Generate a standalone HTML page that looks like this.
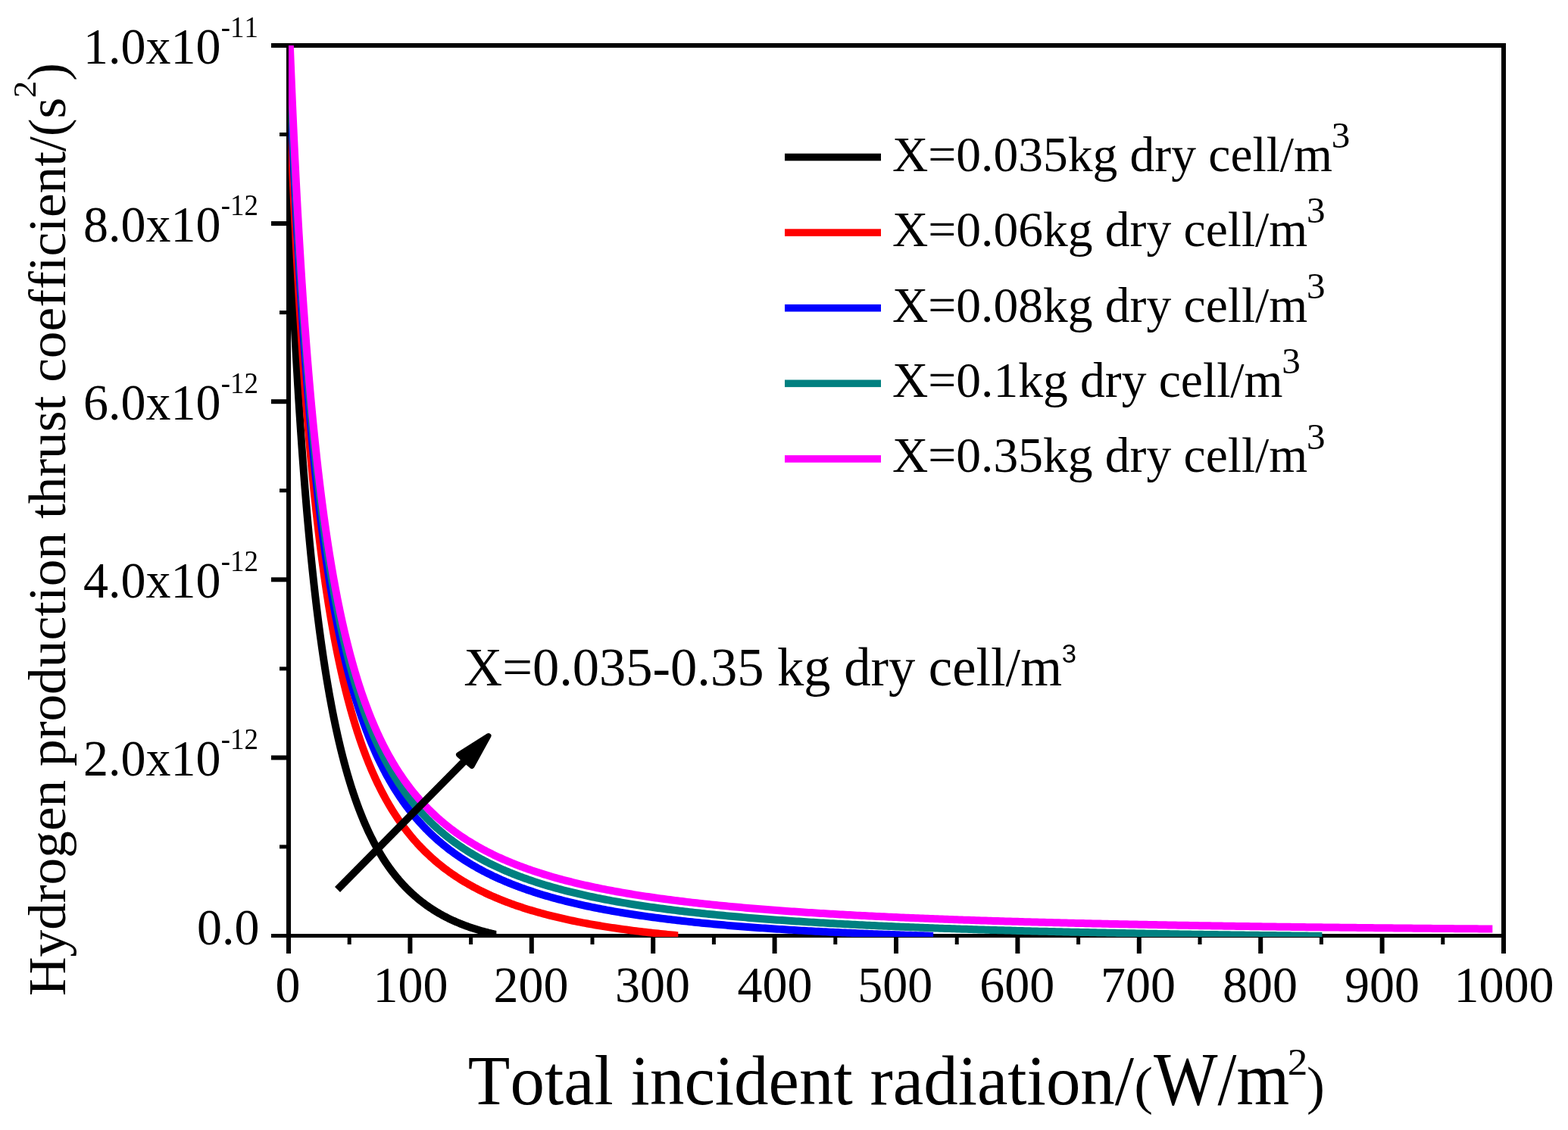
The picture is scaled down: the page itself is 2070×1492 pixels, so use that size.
<!DOCTYPE html><html><head><meta charset="utf-8"><title>Hydrogen production thrust coefficient vs total incident radiation</title><style>html,body{margin:0;padding:0;background:#fff;overflow:hidden;}svg{display:block;}text{font-family:'Liberation Serif','Times New Roman',serif;fill:#000;font-kerning:none;font-variant-ligatures:none;font-feature-settings:"liga" 0,"clig" 0;}</style></head><body>
<svg width="2070" height="1492" viewBox="0 0 2070 1492">
<rect width="2070" height="1492" fill="#fff"/>
<defs><clipPath id="plot"><rect x="381" y="60" width="1604" height="1177"/></clipPath>
<clipPath id="c_black"><rect x="381" y="60" width="274.36" height="1177"/></clipPath>
<clipPath id="c_red"><rect x="381" y="60" width="514.32" height="1177"/></clipPath>
<clipPath id="c_blue"><rect x="381" y="60" width="851.16" height="1177"/></clipPath>
<clipPath id="c_teal"><rect x="381" y="60" width="1364.44" height="1177"/></clipPath>
<clipPath id="c_mag"><rect x="381" y="60" width="1589.32" height="1177"/></clipPath>
</defs>
<g fill="#000">
<rect x="378" y="57" width="1610" height="6"/>
<rect x="378" y="1233" width="1610" height="5"/>
<rect x="378" y="57" width="6" height="1181"/>
<rect x="1982" y="57" width="6" height="1181"/>
<rect x="378.0" y="1238" width="6" height="21"/>
<rect x="538.4" y="1238" width="6" height="21"/>
<rect x="698.8" y="1238" width="6" height="21"/>
<rect x="859.2" y="1238" width="6" height="21"/>
<rect x="1019.6" y="1238" width="6" height="21"/>
<rect x="1180.0" y="1238" width="6" height="21"/>
<rect x="1340.4" y="1238" width="6" height="21"/>
<rect x="1500.8" y="1238" width="6" height="21"/>
<rect x="1661.2" y="1238" width="6" height="21"/>
<rect x="1821.6" y="1238" width="6" height="21"/>
<rect x="1982.0" y="1238" width="6" height="21"/>
<rect x="458.7" y="1238" width="5" height="9"/>
<rect x="619.1" y="1238" width="5" height="9"/>
<rect x="779.5" y="1238" width="5" height="9"/>
<rect x="939.9" y="1238" width="5" height="9"/>
<rect x="1100.3" y="1238" width="5" height="9"/>
<rect x="1260.7" y="1238" width="5" height="9"/>
<rect x="1421.1" y="1238" width="5" height="9"/>
<rect x="1581.5" y="1238" width="5" height="9"/>
<rect x="1741.9" y="1238" width="5" height="9"/>
<rect x="1902.3" y="1238" width="5" height="9"/>
<rect x="358" y="1233" width="20" height="5"/>
<rect x="358" y="997.4" width="20" height="6"/>
<rect x="358" y="762.3" width="20" height="6"/>
<rect x="358" y="527.2" width="20" height="6"/>
<rect x="358" y="292.1" width="20" height="6"/>
<rect x="358" y="57.0" width="20" height="6"/>
<rect x="369" y="1115.5" width="9" height="5"/>
<rect x="369" y="880.4" width="9" height="5"/>
<rect x="369" y="645.2" width="9" height="5"/>
<rect x="369" y="410.1" width="9" height="5"/>
<rect x="369" y="175.0" width="9" height="5"/>
</g>
<g clip-path="url(#plot)" fill="none" stroke-width="10" stroke-linejoin="round" stroke-linecap="butt">
<path clip-path="url(#c_black)" d="M381.00 259.00 L381.40 269.04 L381.80 278.93 L382.20 288.68 L382.60 298.28 L383.00 307.75 L383.41 317.09 L383.81 326.29 L384.21 335.36 L384.61 344.30 L385.01 353.12 L385.41 361.81 L385.81 370.38 L386.21 378.84 L386.61 387.18 L387.01 395.40 L387.42 403.51 L387.82 411.51 L388.22 419.41 L388.62 427.20 L389.02 434.88 L389.42 442.46 L389.82 449.95 L390.22 457.33 L390.62 464.62 L391.02 471.81 L391.43 478.91 L391.83 485.91 L392.23 492.83 L392.63 499.66 L393.03 506.40 L393.43 513.05 L393.83 519.63 L394.23 526.11 L394.63 532.52 L395.04 538.85 L395.44 545.10 L395.84 551.27 L396.24 557.37 L396.64 563.39 L397.04 569.34 L397.44 575.21 L397.84 581.02 L398.24 586.75 L398.64 592.42 L399.05 598.01 L399.45 603.55 L399.85 609.01 L400.25 614.41 L400.65 619.75 L401.05 625.03 L401.45 630.24 L401.85 635.40 L402.25 640.49 L402.65 645.53 L403.06 650.51 L403.46 655.43 L403.86 660.29 L404.26 665.10 L404.66 669.86 L405.06 674.56 L405.46 679.21 L405.86 683.81 L406.26 688.36 L406.66 692.85 L407.06 697.30 L407.47 701.70 L407.87 706.05 L408.27 710.36 L408.67 714.61 L409.07 718.82 L409.47 722.99 L409.87 727.11 L410.27 731.19 L410.67 735.22 L411.07 739.21 L411.48 743.16 L411.88 747.06 L412.28 750.93 L412.68 754.75 L413.08 758.54 L413.48 762.29 L413.88 765.99 L414.28 769.66 L414.68 773.29 L415.08 776.89 L415.49 780.45 L415.89 783.97 L416.29 787.45 L416.69 790.91 L417.09 794.32 L417.49 797.70 L417.89 801.05 L418.29 804.37 L418.69 807.65 L419.10 810.90 L419.50 814.12 L419.90 817.30 L420.30 820.46 L420.70 823.58 L421.10 826.67 L421.50 829.74 L421.90 832.77 L422.30 835.78 L422.70 838.75 L423.11 841.70 L423.51 844.62 L423.91 847.51 L424.31 850.38 L424.71 853.21 L425.11 856.02 L425.51 858.81 L425.91 861.57 L426.31 864.30 L426.71 867.01 L427.12 869.69 L427.52 872.34 L427.92 874.98 L428.32 877.59 L428.72 880.17 L429.12 882.73 L429.52 885.27 L429.92 887.79 L430.32 890.28 L430.72 892.75 L431.12 895.20 L431.53 897.62 L431.93 900.03 L432.33 902.41 L432.73 904.77 L433.13 907.11 L433.53 909.43 L433.93 911.73 L434.33 914.01 L434.73 916.27 L435.13 918.51 L435.54 920.73 L435.94 922.93 L436.34 925.11 L436.74 927.27 L437.14 929.42 L437.54 931.55 L437.94 933.65 L438.34 935.74 L438.74 937.82 L439.14 939.87 L439.55 941.91 L439.95 943.93 L440.35 945.93 L440.75 947.92 L441.15 949.89 L441.55 951.84 L441.95 953.78 L442.35 955.70 L442.75 957.60 L443.15 959.49 L443.56 961.37 L443.96 963.22 L444.36 965.07 L444.76 966.90 L445.16 968.71 L445.56 970.51 L445.96 972.29 L446.36 974.06 L446.76 975.82 L447.17 977.56 L447.57 979.29 L447.97 981.00 L448.37 982.70 L448.77 984.38 L449.17 986.06 L449.57 987.72 L449.97 989.36 L450.37 991.00 L450.77 992.62 L451.18 994.23 L451.58 995.82 L451.98 997.40 L452.38 998.98 L452.78 1000.53 L453.18 1002.08 L453.58 1003.62 L453.98 1005.14 L454.38 1006.65 L454.78 1008.15 L455.19 1009.64 L455.59 1011.11 L455.99 1012.58 L456.39 1014.03 L456.79 1015.48 L457.19 1016.91 L457.59 1018.33 L457.99 1019.74 L458.39 1021.14 L458.79 1022.53 L459.19 1023.91 L459.60 1025.28 L460.00 1026.64 L460.40 1027.99 L460.80 1029.33 L461.20 1030.65 L461.60 1031.97 L462.00 1033.28 L462.40 1034.58 L462.80 1035.87 L463.20 1037.15 L463.61 1038.43 L464.01 1039.69 L464.41 1040.94 L464.81 1042.19 L465.21 1043.42 L465.61 1044.65 L466.01 1045.86 L466.41 1047.07 L466.81 1048.27 L467.22 1049.46 L467.62 1050.65 L468.02 1051.82 L468.42 1052.99 L468.82 1054.15 L469.22 1055.29 L469.62 1056.44 L470.02 1057.57 L470.42 1058.70 L470.82 1059.81 L471.23 1060.92 L471.63 1062.03 L472.03 1063.12 L472.43 1064.21 L472.83 1065.29 L473.23 1066.36 L473.63 1067.42 L474.03 1068.48 L474.43 1069.53 L474.83 1070.57 L475.24 1071.61 L475.64 1072.64 L476.04 1073.66 L476.44 1074.67 L476.84 1075.68 L477.24 1076.68 L478.84 1080.61 L480.45 1084.44 L482.05 1088.17 L483.66 1091.80 L485.26 1095.34 L486.86 1098.79 L488.47 1102.14 L490.07 1105.41 L491.68 1108.60 L493.28 1111.71 L494.88 1114.74 L496.49 1117.69 L498.09 1120.58 L499.70 1123.39 L501.30 1126.13 L502.90 1128.81 L504.51 1131.42 L506.11 1133.97 L507.72 1136.46 L509.32 1138.89 L510.92 1141.26 L512.53 1143.58 L514.13 1145.84 L515.74 1148.05 L517.34 1150.21 L518.94 1152.32 L520.55 1154.38 L522.15 1156.40 L523.76 1158.37 L525.36 1160.30 L526.96 1162.18 L528.57 1164.02 L530.17 1165.82 L531.78 1167.58 L533.38 1169.30 L534.98 1170.99 L536.59 1172.63 L538.19 1174.25 L539.80 1175.82 L541.40 1177.36 L543.00 1178.87 L544.61 1180.35 L546.21 1181.80 L547.82 1183.21 L549.42 1184.60 L551.02 1185.95 L552.63 1187.28 L554.23 1188.58 L555.84 1189.85 L557.44 1191.10 L559.04 1192.32 L560.65 1193.51 L562.25 1194.69 L563.86 1195.83 L565.46 1196.95 L567.06 1198.05 L568.67 1199.13 L570.27 1200.18 L571.88 1201.22 L573.48 1202.23 L575.08 1203.22 L576.69 1204.19 L578.29 1205.15 L579.90 1206.08 L581.50 1206.99 L583.10 1207.89 L584.71 1208.77 L586.31 1209.63 L587.92 1210.47 L589.52 1211.29 L591.12 1212.10 L592.73 1212.90 L594.33 1213.67 L595.94 1214.43 L597.54 1215.18 L599.14 1215.91 L600.75 1216.63 L602.35 1217.33 L603.96 1218.02 L605.56 1218.69 L607.16 1219.36 L608.77 1220.00 L610.37 1220.64 L611.98 1221.26 L613.58 1221.87 L615.18 1222.47 L616.79 1223.05 L618.39 1223.63 L620.00 1224.19 L621.60 1224.74 L623.20 1225.28 L624.81 1225.81 L626.41 1226.33 L628.02 1226.84 L629.62 1227.33 L631.22 1227.82 L632.83 1228.30 L634.43 1228.77 L636.04 1229.22 L637.64 1229.67 L639.24 1230.11 L640.85 1230.54 L642.45 1230.96 L644.06 1231.38 L645.66 1231.78 L647.26 1232.18 L648.87 1232.56 L650.47 1232.94 L652.08 1233.32 L653.68 1233.68 L655.28 1234.03 L656.89 1234.38 L658.49 1234.72 L660.10 1235.06 L661.38 1235.32" stroke="#000000"/>
<path clip-path="url(#c_red)" d="M381.00 98.80 L381.40 109.60 L381.80 120.23 L382.20 130.70 L382.60 141.02 L383.00 151.19 L383.41 161.21 L383.81 171.08 L384.21 180.82 L384.61 190.41 L385.01 199.86 L385.41 209.19 L385.81 218.38 L386.21 227.44 L386.61 236.37 L387.01 245.18 L387.42 253.87 L387.82 262.44 L388.22 270.89 L388.62 279.23 L389.02 287.46 L389.42 295.57 L389.82 303.58 L390.22 311.48 L390.62 319.27 L391.02 326.97 L391.43 334.56 L391.83 342.05 L392.23 349.45 L392.63 356.75 L393.03 363.96 L393.43 371.07 L393.83 378.10 L394.23 385.04 L394.63 391.89 L395.04 398.65 L395.44 405.33 L395.84 411.93 L396.24 418.44 L396.64 424.88 L397.04 431.24 L397.44 437.52 L397.84 443.72 L398.24 449.85 L398.64 455.91 L399.05 461.89 L399.45 467.81 L399.85 473.65 L400.25 479.42 L400.65 485.13 L401.05 490.77 L401.45 496.35 L401.85 501.86 L402.25 507.31 L402.65 512.69 L403.06 518.02 L403.46 523.28 L403.86 528.49 L404.26 533.63 L404.66 538.72 L405.06 543.76 L405.46 548.73 L405.86 553.66 L406.26 558.52 L406.66 563.34 L407.06 568.10 L407.47 572.81 L407.87 577.47 L408.27 582.08 L408.67 586.64 L409.07 591.15 L409.47 595.62 L409.87 600.03 L410.27 604.40 L410.67 608.73 L411.07 613.01 L411.48 617.24 L411.88 621.43 L412.28 625.58 L412.68 629.68 L413.08 633.75 L413.48 637.77 L413.88 641.75 L414.28 645.69 L414.68 649.59 L415.08 653.45 L415.49 657.28 L415.89 661.06 L416.29 664.81 L416.69 668.52 L417.09 672.20 L417.49 675.83 L417.89 679.44 L418.29 683.00 L418.69 686.54 L419.10 690.04 L419.50 693.50 L419.90 696.93 L420.30 700.33 L420.70 703.70 L421.10 707.04 L421.50 710.34 L421.90 713.61 L422.30 716.86 L422.70 720.07 L423.11 723.25 L423.51 726.40 L423.91 729.53 L424.31 732.62 L424.71 735.69 L425.11 738.73 L425.51 741.74 L425.91 744.72 L426.31 747.68 L426.71 750.61 L427.12 753.52 L427.52 756.39 L427.92 759.25 L428.32 762.07 L428.72 764.88 L429.12 767.65 L429.52 770.41 L429.92 773.14 L430.32 775.84 L430.72 778.52 L431.12 781.18 L431.53 783.82 L431.93 786.43 L432.33 789.02 L432.73 791.59 L433.13 794.13 L433.53 796.66 L433.93 799.16 L434.33 801.65 L434.73 804.11 L435.13 806.55 L435.54 808.97 L435.94 811.37 L436.34 813.75 L436.74 816.11 L437.14 818.45 L437.54 820.77 L437.94 823.08 L438.34 825.36 L438.74 827.63 L439.14 829.88 L439.55 832.10 L439.95 834.32 L440.35 836.51 L440.75 838.69 L441.15 840.84 L441.55 842.99 L441.95 845.11 L442.35 847.22 L442.75 849.31 L443.15 851.38 L443.56 853.44 L443.96 855.48 L444.36 857.51 L444.76 859.52 L445.16 861.52 L445.56 863.50 L445.96 865.46 L446.36 867.41 L446.76 869.34 L447.17 871.26 L447.57 873.17 L447.97 875.06 L448.37 876.94 L448.77 878.80 L449.17 880.65 L449.57 882.48 L449.97 884.30 L450.37 886.11 L450.77 887.90 L451.18 889.68 L451.58 891.45 L451.98 893.20 L452.38 894.95 L452.78 896.67 L453.18 898.39 L453.58 900.09 L453.98 901.79 L454.38 903.46 L454.78 905.13 L455.19 906.79 L455.59 908.43 L455.99 910.06 L456.39 911.68 L456.79 913.29 L457.19 914.88 L457.59 916.47 L457.99 918.04 L458.39 919.61 L458.79 921.16 L459.19 922.70 L459.60 924.23 L460.00 925.75 L460.40 927.26 L460.80 928.76 L461.20 930.25 L461.60 931.72 L462.00 933.19 L462.40 934.65 L462.80 936.10 L463.20 937.54 L463.61 938.97 L464.01 940.38 L464.41 941.79 L464.81 943.19 L465.21 944.58 L465.61 945.96 L466.01 947.34 L466.41 948.70 L466.81 950.05 L467.22 951.40 L467.62 952.73 L468.02 954.06 L468.42 955.38 L468.82 956.68 L469.22 957.99 L469.62 959.28 L470.02 960.56 L470.42 961.84 L470.82 963.10 L471.23 964.36 L471.63 965.61 L472.03 966.86 L472.43 968.09 L472.83 969.32 L473.23 970.54 L473.63 971.75 L474.03 972.95 L474.43 974.15 L474.83 975.33 L475.24 976.52 L475.64 977.69 L476.04 978.85 L476.44 980.01 L476.84 981.16 L477.24 982.31 L478.84 986.82 L480.45 991.21 L482.05 995.50 L483.66 999.69 L485.26 1003.77 L486.86 1007.77 L488.47 1011.66 L490.07 1015.47 L491.68 1019.19 L493.28 1022.83 L494.88 1026.38 L496.49 1029.85 L498.09 1033.25 L499.70 1036.57 L501.30 1039.82 L502.90 1043.00 L504.51 1046.12 L506.11 1049.16 L507.72 1052.14 L509.32 1055.06 L510.92 1057.92 L512.53 1060.72 L514.13 1063.46 L515.74 1066.15 L517.34 1068.78 L518.94 1071.36 L520.55 1073.89 L522.15 1076.37 L523.76 1078.80 L525.36 1081.18 L526.96 1083.52 L528.57 1085.81 L530.17 1088.06 L531.78 1090.27 L533.38 1092.44 L534.98 1094.56 L536.59 1096.65 L538.19 1098.70 L539.80 1100.71 L541.40 1102.68 L543.00 1104.62 L544.61 1106.52 L546.21 1108.39 L547.82 1110.23 L549.42 1112.03 L551.02 1113.81 L552.63 1115.55 L554.23 1117.26 L555.84 1118.95 L557.44 1120.60 L559.04 1122.23 L560.65 1123.83 L562.25 1125.40 L563.86 1126.95 L565.46 1128.47 L567.06 1129.97 L568.67 1131.44 L570.27 1132.89 L571.88 1134.32 L573.48 1135.72 L575.08 1137.10 L576.69 1138.46 L578.29 1139.80 L579.90 1141.11 L581.50 1142.41 L583.10 1143.68 L584.71 1144.94 L586.31 1146.18 L587.92 1147.40 L589.52 1148.60 L591.12 1149.78 L592.73 1150.94 L594.33 1152.09 L595.94 1153.22 L597.54 1154.33 L599.14 1155.43 L600.75 1156.51 L602.35 1157.57 L603.96 1158.62 L605.56 1159.66 L607.16 1160.68 L608.77 1161.68 L610.37 1162.67 L611.98 1163.65 L613.58 1164.61 L615.18 1165.56 L616.79 1166.50 L618.39 1167.42 L620.00 1168.33 L621.60 1169.23 L623.20 1170.12 L624.81 1170.99 L626.41 1171.85 L628.02 1172.70 L629.62 1173.54 L631.22 1174.37 L632.83 1175.19 L634.43 1175.99 L636.04 1176.79 L637.64 1177.57 L639.24 1178.35 L640.85 1179.11 L642.45 1179.87 L644.06 1180.61 L645.66 1181.35 L647.26 1182.08 L648.87 1182.79 L650.47 1183.50 L652.08 1184.20 L653.68 1184.89 L655.28 1185.57 L656.89 1186.24 L658.49 1186.91 L660.10 1187.57 L661.70 1188.21 L663.30 1188.85 L664.91 1189.49 L666.51 1190.11 L668.12 1190.73 L669.72 1191.34 L671.32 1191.94 L672.93 1192.54 L674.53 1193.12 L676.14 1193.70 L677.74 1194.28 L679.34 1194.85 L680.95 1195.41 L682.55 1195.96 L684.16 1196.51 L685.76 1197.05 L687.36 1197.58 L688.97 1198.11 L690.57 1198.64 L692.18 1199.15 L693.78 1199.66 L695.38 1200.17 L696.99 1200.67 L698.59 1201.16 L700.20 1201.65 L701.80 1202.13 L705.01 1203.08 L708.22 1204.00 L711.42 1204.91 L714.63 1205.80 L717.84 1206.67 L721.05 1207.51 L724.26 1208.34 L727.46 1209.16 L730.67 1209.95 L733.88 1210.73 L737.09 1211.49 L740.30 1212.24 L743.50 1212.97 L746.71 1213.68 L749.92 1214.38 L753.13 1215.07 L756.34 1215.74 L759.54 1216.40 L762.75 1217.04 L765.96 1217.67 L769.17 1218.29 L772.38 1218.90 L775.58 1219.50 L778.79 1220.08 L782.00 1220.65 L785.21 1221.21 L788.42 1221.76 L791.62 1222.30 L794.83 1222.83 L798.04 1223.34 L801.25 1223.85 L804.46 1224.35 L807.66 1224.84 L810.87 1225.32 L814.08 1225.79 L817.29 1226.25 L820.50 1226.70 L823.70 1227.15 L826.91 1227.58 L830.12 1228.01 L833.33 1228.43 L836.54 1228.85 L839.74 1229.25 L842.95 1229.65 L846.16 1230.04 L849.37 1230.42 L852.58 1230.80 L855.78 1231.16 L858.99 1231.53 L862.20 1231.88 L865.41 1232.23 L868.62 1232.57 L871.82 1232.91 L875.03 1233.24 L878.24 1233.57 L881.45 1233.89 L884.66 1234.20 L887.86 1234.51 L891.07 1234.81 L894.28 1235.11 L897.49 1235.40 L900.70 1235.68 L901.34 1235.74" stroke="#FF0000"/>
<path clip-path="url(#c_blue)" d="M381.00 52.93 L381.40 63.89 L381.80 74.67 L382.20 85.29 L382.60 95.76 L383.00 106.07 L383.41 116.22 L383.81 126.23 L384.21 136.09 L384.61 145.81 L385.01 155.38 L385.41 164.82 L385.81 174.12 L386.21 183.30 L386.61 192.34 L387.01 201.26 L387.42 210.05 L387.82 218.72 L388.22 227.27 L388.62 235.70 L389.02 244.02 L389.42 252.22 L389.82 260.32 L390.22 268.30 L390.62 276.18 L391.02 283.96 L391.43 291.63 L391.83 299.20 L392.23 306.67 L392.63 314.05 L393.03 321.33 L393.43 328.52 L393.83 335.61 L394.23 342.62 L394.63 349.54 L395.04 356.37 L395.44 363.11 L395.84 369.77 L396.24 376.35 L396.64 382.84 L397.04 389.26 L397.44 395.60 L397.84 401.86 L398.24 408.05 L398.64 414.16 L399.05 420.20 L399.45 426.17 L399.85 432.06 L400.25 437.89 L400.65 443.65 L401.05 449.34 L401.45 454.96 L401.85 460.52 L402.25 466.02 L402.65 471.45 L403.06 476.82 L403.46 482.13 L403.86 487.38 L404.26 492.58 L404.66 497.71 L405.06 502.78 L405.46 507.80 L405.86 512.77 L406.26 517.68 L406.66 522.53 L407.06 527.34 L407.47 532.09 L407.87 536.79 L408.27 541.44 L408.67 546.04 L409.07 550.59 L409.47 555.09 L409.87 559.54 L410.27 563.95 L410.67 568.31 L411.07 572.63 L411.48 576.90 L411.88 581.13 L412.28 585.31 L412.68 589.45 L413.08 593.55 L413.48 597.61 L413.88 601.62 L414.28 605.60 L414.68 609.53 L415.08 613.43 L415.49 617.29 L415.89 621.11 L416.29 624.89 L416.69 628.63 L417.09 632.34 L417.49 636.01 L417.89 639.65 L418.29 643.25 L418.69 646.81 L419.10 650.34 L419.50 653.84 L419.90 657.31 L420.30 660.74 L420.70 664.14 L421.10 667.50 L421.50 670.84 L421.90 674.14 L422.30 677.42 L422.70 680.66 L423.11 683.87 L423.51 687.06 L423.91 690.21 L424.31 693.33 L424.71 696.43 L425.11 699.50 L425.51 702.54 L425.91 705.56 L426.31 708.54 L426.71 711.50 L427.12 714.44 L427.52 717.34 L427.92 720.23 L428.32 723.08 L428.72 725.91 L429.12 728.72 L429.52 731.50 L429.92 734.26 L430.32 737.00 L430.72 739.71 L431.12 742.39 L431.53 745.06 L431.93 747.70 L432.33 750.32 L432.73 752.92 L433.13 755.49 L433.53 758.04 L433.93 760.58 L434.33 763.09 L434.73 765.58 L435.13 768.05 L435.54 770.50 L435.94 772.92 L436.34 775.33 L436.74 777.72 L437.14 780.09 L437.54 782.44 L437.94 784.77 L438.34 787.09 L438.74 789.38 L439.14 791.65 L439.55 793.91 L439.95 796.15 L440.35 798.37 L440.75 800.58 L441.15 802.76 L441.55 804.93 L441.95 807.08 L442.35 809.22 L442.75 811.34 L443.15 813.44 L443.56 815.52 L443.96 817.59 L444.36 819.65 L444.76 821.69 L445.16 823.71 L445.56 825.71 L445.96 827.71 L446.36 829.68 L446.76 831.64 L447.17 833.59 L447.57 835.52 L447.97 837.44 L448.37 839.35 L448.77 841.23 L449.17 843.11 L449.57 844.97 L449.97 846.82 L450.37 848.65 L450.77 850.47 L451.18 852.28 L451.58 854.08 L451.98 855.86 L452.38 857.62 L452.78 859.38 L453.18 861.12 L453.58 862.85 L453.98 864.57 L454.38 866.28 L454.78 867.97 L455.19 869.65 L455.59 871.32 L455.99 872.98 L456.39 874.62 L456.79 876.26 L457.19 877.88 L457.59 879.49 L457.99 881.10 L458.39 882.68 L458.79 884.26 L459.19 885.83 L459.60 887.39 L460.00 888.93 L460.40 890.47 L460.80 891.99 L461.20 893.51 L461.60 895.01 L462.00 896.51 L462.40 897.99 L462.80 899.47 L463.20 900.93 L463.61 902.38 L464.01 903.83 L464.41 905.26 L464.81 906.69 L465.21 908.11 L465.61 909.51 L466.01 910.91 L466.41 912.30 L466.81 913.68 L467.22 915.05 L467.62 916.41 L468.02 917.76 L468.42 919.11 L468.82 920.44 L469.22 921.77 L469.62 923.09 L470.02 924.40 L470.42 925.70 L470.82 926.99 L471.23 928.27 L471.63 929.55 L472.03 930.82 L472.43 932.08 L472.83 933.33 L473.23 934.58 L473.63 935.81 L474.03 937.04 L474.43 938.26 L474.83 939.48 L475.24 940.68 L475.64 941.88 L476.04 943.07 L476.44 944.26 L476.84 945.43 L477.24 946.60 L478.84 951.21 L480.45 955.71 L482.05 960.10 L483.66 964.38 L485.26 968.57 L486.86 972.66 L488.47 976.66 L490.07 980.56 L491.68 984.38 L493.28 988.11 L494.88 991.76 L496.49 995.33 L498.09 998.83 L499.70 1002.25 L501.30 1005.59 L502.90 1008.87 L504.51 1012.07 L506.11 1015.21 L507.72 1018.29 L509.32 1021.30 L510.92 1024.25 L512.53 1027.14 L514.13 1029.98 L515.74 1032.76 L517.34 1035.48 L518.94 1038.15 L520.55 1040.77 L522.15 1043.34 L523.76 1045.86 L525.36 1048.33 L526.96 1050.76 L528.57 1053.14 L530.17 1055.47 L531.78 1057.77 L533.38 1060.02 L534.98 1062.23 L536.59 1064.40 L538.19 1066.54 L539.80 1068.63 L541.40 1070.69 L543.00 1072.71 L544.61 1074.70 L546.21 1076.65 L547.82 1078.57 L549.42 1080.46 L551.02 1082.32 L552.63 1084.14 L554.23 1085.94 L555.84 1087.70 L557.44 1089.44 L559.04 1091.14 L560.65 1092.82 L562.25 1094.48 L563.86 1096.10 L565.46 1097.70 L567.06 1099.28 L568.67 1100.83 L570.27 1102.35 L571.88 1103.86 L573.48 1105.34 L575.08 1106.79 L576.69 1108.23 L578.29 1109.64 L579.90 1111.03 L581.50 1112.40 L583.10 1113.75 L584.71 1115.08 L586.31 1116.39 L587.92 1117.68 L589.52 1118.96 L591.12 1120.21 L592.73 1121.45 L594.33 1122.66 L595.94 1123.87 L597.54 1125.05 L599.14 1126.22 L600.75 1127.37 L602.35 1128.50 L603.96 1129.62 L605.56 1130.73 L607.16 1131.82 L608.77 1132.89 L610.37 1133.95 L611.98 1134.99 L613.58 1136.02 L615.18 1137.04 L616.79 1138.05 L618.39 1139.04 L620.00 1140.01 L621.60 1140.98 L623.20 1141.93 L624.81 1142.87 L626.41 1143.80 L628.02 1144.71 L629.62 1145.62 L631.22 1146.51 L632.83 1147.39 L634.43 1148.26 L636.04 1149.12 L637.64 1149.97 L639.24 1150.81 L640.85 1151.63 L642.45 1152.45 L644.06 1153.26 L645.66 1154.06 L647.26 1154.85 L648.87 1155.62 L650.47 1156.39 L652.08 1157.15 L653.68 1157.90 L655.28 1158.65 L656.89 1159.38 L658.49 1160.10 L660.10 1160.82 L661.70 1161.53 L663.30 1162.23 L664.91 1162.92 L666.51 1163.60 L668.12 1164.28 L669.72 1164.95 L671.32 1165.61 L672.93 1166.26 L674.53 1166.90 L676.14 1167.54 L677.74 1168.17 L679.34 1168.80 L680.95 1169.42 L682.55 1170.03 L684.16 1170.63 L685.76 1171.23 L687.36 1171.82 L688.97 1172.40 L690.57 1172.98 L692.18 1173.55 L693.78 1174.12 L695.38 1174.68 L696.99 1175.23 L698.59 1175.78 L700.20 1176.32 L701.80 1176.85 L705.01 1177.91 L708.22 1178.94 L711.42 1179.96 L714.63 1180.95 L717.84 1181.92 L721.05 1182.87 L724.26 1183.80 L727.46 1184.72 L730.67 1185.61 L733.88 1186.49 L737.09 1187.35 L740.30 1188.20 L743.50 1189.03 L746.71 1189.84 L749.92 1190.64 L753.13 1191.42 L756.34 1192.19 L759.54 1192.94 L762.75 1193.68 L765.96 1194.41 L769.17 1195.12 L772.38 1195.82 L775.58 1196.51 L778.79 1197.18 L782.00 1197.84 L785.21 1198.50 L788.42 1199.14 L791.62 1199.76 L794.83 1200.38 L798.04 1200.99 L801.25 1201.58 L804.46 1202.17 L807.66 1202.75 L810.87 1203.31 L814.08 1203.87 L817.29 1204.42 L820.50 1204.95 L823.70 1205.48 L826.91 1206.00 L830.12 1206.52 L833.33 1207.02 L836.54 1207.52 L839.74 1208.00 L842.95 1208.48 L846.16 1208.95 L849.37 1209.42 L852.58 1209.88 L855.78 1210.33 L858.99 1210.77 L862.20 1211.20 L865.41 1211.63 L868.62 1212.05 L871.82 1212.47 L875.03 1212.88 L878.24 1213.28 L881.45 1213.68 L884.66 1214.07 L887.86 1214.45 L891.07 1214.83 L894.28 1215.21 L897.49 1215.57 L900.70 1215.94 L903.90 1216.29 L907.11 1216.64 L910.32 1216.99 L913.53 1217.33 L916.74 1217.67 L919.94 1218.00 L923.15 1218.33 L926.36 1218.65 L929.57 1218.97 L932.78 1219.28 L935.98 1219.59 L939.19 1219.89 L942.40 1220.19 L945.61 1220.48 L948.82 1220.78 L952.02 1221.06 L955.23 1221.35 L958.44 1221.62 L961.65 1221.90 L964.86 1222.17 L968.06 1222.44 L971.27 1222.70 L974.48 1222.96 L977.69 1223.22 L980.90 1223.47 L984.10 1223.72 L987.31 1223.97 L990.52 1224.21 L993.73 1224.45 L996.94 1224.68 L1000.14 1224.92 L1003.35 1225.15 L1006.56 1225.37 L1009.77 1225.60 L1012.98 1225.82 L1016.18 1226.04 L1019.39 1226.25 L1022.60 1226.46 L1025.81 1226.67 L1029.02 1226.88 L1032.22 1227.08 L1035.43 1227.28 L1038.64 1227.48 L1041.85 1227.68 L1045.06 1227.87 L1048.26 1228.06 L1051.47 1228.25 L1054.68 1228.44 L1057.89 1228.62 L1061.10 1228.80 L1064.30 1228.98 L1067.51 1229.16 L1070.72 1229.33 L1073.93 1229.50 L1077.14 1229.67 L1080.34 1229.84 L1083.55 1230.00 L1086.76 1230.17 L1089.97 1230.33 L1093.18 1230.49 L1096.38 1230.65 L1099.59 1230.80 L1102.80 1230.95 L1106.01 1231.10 L1109.22 1231.25 L1112.42 1231.40 L1115.63 1231.55 L1118.84 1231.69 L1122.05 1231.83 L1125.26 1231.97 L1128.46 1232.11 L1131.67 1232.25 L1134.88 1232.38 L1138.09 1232.52 L1141.30 1232.65 L1144.50 1232.78 L1147.71 1232.91 L1150.92 1233.03 L1154.13 1233.16 L1157.34 1233.28 L1160.54 1233.40 L1163.75 1233.52 L1166.96 1233.64 L1170.17 1233.76 L1173.38 1233.87 L1176.58 1233.99 L1179.79 1234.10 L1183.00 1234.21 L1186.21 1234.32 L1189.42 1234.43 L1192.62 1234.54 L1195.83 1234.65 L1199.04 1234.75 L1202.25 1234.86 L1205.46 1234.96 L1208.66 1235.06 L1211.87 1235.16 L1215.08 1235.26 L1218.29 1235.36 L1221.50 1235.45 L1224.70 1235.55 L1227.91 1235.64 L1231.12 1235.73 L1234.33 1235.82 L1237.54 1235.91 L1238.18 1235.93" stroke="#0000FF"/>
<path clip-path="url(#c_teal)" d="M381.00 33.86 L381.40 44.61 L381.80 55.20 L382.20 65.63 L382.60 75.92 L383.00 86.05 L383.41 96.05 L383.81 105.90 L384.21 115.61 L384.61 125.19 L385.01 134.63 L385.41 143.94 L385.81 153.12 L386.21 162.18 L386.61 171.12 L387.01 179.93 L387.42 188.62 L387.82 197.20 L388.22 205.66 L388.62 214.01 L389.02 222.25 L389.42 230.38 L389.82 238.41 L390.22 246.33 L390.62 254.14 L391.02 261.86 L391.43 269.48 L391.83 277.00 L392.23 284.43 L392.63 291.76 L393.03 299.00 L393.43 306.15 L393.83 313.21 L394.23 320.19 L394.63 327.07 L395.04 333.88 L395.44 340.60 L395.84 347.24 L396.24 353.80 L396.64 360.28 L397.04 366.68 L397.44 373.01 L397.84 379.26 L398.24 385.44 L398.64 391.54 L399.05 397.58 L399.45 403.54 L399.85 409.44 L400.25 415.26 L400.65 421.03 L401.05 426.72 L401.45 432.35 L401.85 437.92 L402.25 443.42 L402.65 448.86 L403.06 454.24 L403.46 459.57 L403.86 464.83 L404.26 470.03 L404.66 475.18 L405.06 480.27 L405.46 485.31 L405.86 490.29 L406.26 495.22 L406.66 500.10 L407.06 504.92 L407.47 509.69 L407.87 514.41 L408.27 519.08 L408.67 523.71 L409.07 528.28 L409.47 532.81 L409.87 537.29 L410.27 541.72 L410.67 546.11 L411.07 550.45 L411.48 554.75 L411.88 559.00 L412.28 563.22 L412.68 567.38 L413.08 571.51 L413.48 575.60 L413.88 579.64 L414.28 583.65 L414.68 587.61 L415.08 591.54 L415.49 595.43 L415.89 599.28 L416.29 603.09 L416.69 606.87 L417.09 610.61 L417.49 614.31 L417.89 617.98 L418.29 621.61 L418.69 625.21 L419.10 628.77 L419.50 632.30 L419.90 635.80 L420.30 639.27 L420.70 642.70 L421.10 646.10 L421.50 649.47 L421.90 652.81 L422.30 656.11 L422.70 659.39 L423.11 662.64 L423.51 665.85 L423.91 669.04 L424.31 672.20 L424.71 675.33 L425.11 678.44 L425.51 681.51 L425.91 684.56 L426.31 687.58 L426.71 690.57 L427.12 693.54 L427.52 696.48 L427.92 699.40 L428.32 702.29 L428.72 705.16 L429.12 708.00 L429.52 710.81 L429.92 713.60 L430.32 716.37 L430.72 719.12 L431.12 721.84 L431.53 724.54 L431.93 727.21 L432.33 729.86 L432.73 732.49 L433.13 735.10 L433.53 737.69 L433.93 740.25 L434.33 742.80 L434.73 745.32 L435.13 747.82 L435.54 750.30 L435.94 752.77 L436.34 755.21 L436.74 757.63 L437.14 760.03 L437.54 762.41 L437.94 764.78 L438.34 767.12 L438.74 769.45 L439.14 771.75 L439.55 774.04 L439.95 776.31 L440.35 778.56 L440.75 780.80 L441.15 783.02 L441.55 785.22 L441.95 787.40 L442.35 789.56 L442.75 791.71 L443.15 793.85 L443.56 795.96 L443.96 798.06 L444.36 800.15 L444.76 802.21 L445.16 804.27 L445.56 806.30 L445.96 808.32 L446.36 810.33 L446.76 812.32 L447.17 814.30 L447.57 816.26 L447.97 818.20 L448.37 820.14 L448.77 822.05 L449.17 823.96 L449.57 825.85 L449.97 827.72 L450.37 829.58 L450.77 831.43 L451.18 833.27 L451.58 835.09 L451.98 836.90 L452.38 838.69 L452.78 840.48 L453.18 842.25 L453.58 844.00 L453.98 845.75 L454.38 847.48 L454.78 849.20 L455.19 850.91 L455.59 852.60 L455.99 854.29 L456.39 855.96 L456.79 857.62 L457.19 859.27 L457.59 860.90 L457.99 862.53 L458.39 864.14 L458.79 865.75 L459.19 867.34 L459.60 868.92 L460.00 870.49 L460.40 872.05 L460.80 873.60 L461.20 875.14 L461.60 876.67 L462.00 878.19 L462.40 879.70 L462.80 881.19 L463.20 882.68 L463.61 884.16 L464.01 885.63 L464.41 887.08 L464.81 888.53 L465.21 889.97 L465.61 891.40 L466.01 892.82 L466.41 894.23 L466.81 895.63 L467.22 897.03 L467.62 898.41 L468.02 899.78 L468.42 901.15 L468.82 902.51 L469.22 903.85 L469.62 905.19 L470.02 906.52 L470.42 907.85 L470.82 909.16 L471.23 910.47 L471.63 911.76 L472.03 913.05 L472.43 914.33 L472.83 915.60 L473.23 916.87 L473.63 918.13 L474.03 919.38 L474.43 920.62 L474.83 921.85 L475.24 923.08 L475.64 924.29 L476.04 925.50 L476.44 926.71 L476.84 927.90 L477.24 929.09 L478.84 933.77 L480.45 938.34 L482.05 942.81 L483.66 947.16 L485.26 951.42 L486.86 955.57 L488.47 959.64 L490.07 963.60 L491.68 967.48 L493.28 971.28 L494.88 974.99 L496.49 978.62 L498.09 982.17 L499.70 985.64 L501.30 989.04 L502.90 992.37 L504.51 995.62 L506.11 998.81 L507.72 1001.94 L509.32 1005.00 L510.92 1007.99 L512.53 1010.93 L514.13 1013.81 L515.74 1016.63 L517.34 1019.40 L518.94 1022.11 L520.55 1024.77 L522.15 1027.38 L523.76 1029.93 L525.36 1032.44 L526.96 1034.91 L528.57 1037.32 L530.17 1039.70 L531.78 1042.02 L533.38 1044.31 L534.98 1046.56 L536.59 1048.76 L538.19 1050.92 L539.80 1053.05 L541.40 1055.14 L543.00 1057.19 L544.61 1059.21 L546.21 1061.19 L547.82 1063.14 L549.42 1065.05 L551.02 1066.94 L552.63 1068.79 L554.23 1070.61 L555.84 1072.40 L557.44 1074.16 L559.04 1075.89 L560.65 1077.59 L562.25 1079.27 L563.86 1080.92 L565.46 1082.54 L567.06 1084.14 L568.67 1085.71 L570.27 1087.26 L571.88 1088.78 L573.48 1090.28 L575.08 1091.76 L576.69 1093.21 L578.29 1094.64 L579.90 1096.05 L581.50 1097.44 L583.10 1098.81 L584.71 1100.16 L586.31 1101.49 L587.92 1102.80 L589.52 1104.09 L591.12 1105.36 L592.73 1106.61 L594.33 1107.84 L595.94 1109.06 L597.54 1110.26 L599.14 1111.44 L600.75 1112.61 L602.35 1113.76 L603.96 1114.90 L605.56 1116.01 L607.16 1117.12 L608.77 1118.21 L610.37 1119.28 L611.98 1120.34 L613.58 1121.38 L615.18 1122.42 L616.79 1123.43 L618.39 1124.44 L620.00 1125.43 L621.60 1126.40 L623.20 1127.37 L624.81 1128.32 L626.41 1129.26 L628.02 1130.19 L629.62 1131.11 L631.22 1132.01 L632.83 1132.91 L634.43 1133.79 L636.04 1134.66 L637.64 1135.52 L639.24 1136.37 L640.85 1137.21 L642.45 1138.04 L644.06 1138.86 L645.66 1139.66 L647.26 1140.46 L648.87 1141.25 L650.47 1142.03 L652.08 1142.80 L653.68 1143.57 L655.28 1144.32 L656.89 1145.06 L658.49 1145.80 L660.10 1146.52 L661.70 1147.24 L663.30 1147.95 L664.91 1148.65 L666.51 1149.35 L668.12 1150.03 L669.72 1150.71 L671.32 1151.38 L672.93 1152.04 L674.53 1152.70 L676.14 1153.35 L677.74 1153.99 L679.34 1154.62 L680.95 1155.25 L682.55 1155.87 L684.16 1156.48 L685.76 1157.09 L687.36 1157.69 L688.97 1158.28 L690.57 1158.87 L692.18 1159.45 L693.78 1160.03 L695.38 1160.59 L696.99 1161.16 L698.59 1161.71 L700.20 1162.27 L701.80 1162.81 L705.01 1163.88 L708.22 1164.94 L711.42 1165.97 L714.63 1166.98 L717.84 1167.97 L721.05 1168.94 L724.26 1169.89 L727.46 1170.82 L730.67 1171.73 L733.88 1172.63 L737.09 1173.51 L740.30 1174.37 L743.50 1175.22 L746.71 1176.05 L749.92 1176.86 L753.13 1177.66 L756.34 1178.45 L759.54 1179.22 L762.75 1179.98 L765.96 1180.72 L769.17 1181.45 L772.38 1182.17 L775.58 1182.87 L778.79 1183.57 L782.00 1184.25 L785.21 1184.92 L788.42 1185.58 L791.62 1186.22 L794.83 1186.86 L798.04 1187.48 L801.25 1188.10 L804.46 1188.70 L807.66 1189.30 L810.87 1189.88 L814.08 1190.46 L817.29 1191.02 L820.50 1191.58 L823.70 1192.13 L826.91 1192.67 L830.12 1193.20 L833.33 1193.72 L836.54 1194.23 L839.74 1194.74 L842.95 1195.24 L846.16 1195.73 L849.37 1196.21 L852.58 1196.69 L855.78 1197.16 L858.99 1197.62 L862.20 1198.07 L865.41 1198.52 L868.62 1198.96 L871.82 1199.40 L875.03 1199.83 L878.24 1200.25 L881.45 1200.67 L884.66 1201.08 L887.86 1201.48 L891.07 1201.88 L894.28 1202.28 L897.49 1202.67 L900.70 1203.05 L903.90 1203.42 L907.11 1203.80 L910.32 1204.16 L913.53 1204.53 L916.74 1204.88 L919.94 1205.24 L923.15 1205.58 L926.36 1205.93 L929.57 1206.26 L932.78 1206.60 L935.98 1206.93 L939.19 1207.25 L942.40 1207.57 L945.61 1207.89 L948.82 1208.20 L952.02 1208.51 L955.23 1208.81 L958.44 1209.12 L961.65 1209.41 L964.86 1209.71 L968.06 1209.99 L971.27 1210.28 L974.48 1210.56 L977.69 1210.84 L980.90 1211.12 L984.10 1211.39 L987.31 1211.66 L990.52 1211.92 L993.73 1212.18 L996.94 1212.44 L1000.14 1212.70 L1003.35 1212.95 L1006.56 1213.20 L1009.77 1213.45 L1012.98 1213.69 L1016.18 1213.93 L1019.39 1214.17 L1022.60 1214.41 L1025.81 1214.64 L1029.02 1214.87 L1032.22 1215.10 L1035.43 1215.32 L1038.64 1215.54 L1041.85 1215.76 L1045.06 1215.98 L1048.26 1216.19 L1051.47 1216.40 L1054.68 1216.61 L1057.89 1216.82 L1061.10 1217.03 L1064.30 1217.23 L1067.51 1217.43 L1070.72 1217.63 L1073.93 1217.82 L1077.14 1218.02 L1080.34 1218.21 L1083.55 1218.40 L1086.76 1218.59 L1089.97 1218.77 L1093.18 1218.96 L1096.38 1219.14 L1099.59 1219.32 L1102.80 1219.50 L1106.01 1219.67 L1109.22 1219.85 L1112.42 1220.02 L1115.63 1220.19 L1118.84 1220.36 L1122.05 1220.53 L1125.26 1220.69 L1128.46 1220.86 L1131.67 1221.02 L1134.88 1221.18 L1138.09 1221.34 L1141.30 1221.49 L1144.50 1221.65 L1147.71 1221.80 L1150.92 1221.95 L1154.13 1222.11 L1157.34 1222.25 L1160.54 1222.40 L1163.75 1222.55 L1166.96 1222.69 L1170.17 1222.84 L1173.38 1222.98 L1176.58 1223.12 L1179.79 1223.26 L1183.00 1223.40 L1186.21 1223.53 L1189.42 1223.67 L1192.62 1223.80 L1195.83 1223.93 L1199.04 1224.07 L1202.25 1224.20 L1205.46 1224.33 L1208.66 1224.45 L1211.87 1224.58 L1215.08 1224.70 L1218.29 1224.83 L1221.50 1224.95 L1224.70 1225.07 L1227.91 1225.19 L1231.12 1225.31 L1234.33 1225.43 L1237.54 1225.55 L1240.74 1225.66 L1243.95 1225.78 L1247.16 1225.89 L1250.37 1226.01 L1253.58 1226.12 L1256.78 1226.23 L1259.99 1226.34 L1263.20 1226.45 L1266.41 1226.56 L1269.62 1226.66 L1272.82 1226.77 L1276.03 1226.87 L1279.24 1226.98 L1282.45 1227.08 L1285.66 1227.18 L1288.86 1227.29 L1292.07 1227.39 L1295.28 1227.49 L1298.49 1227.58 L1301.70 1227.68 L1304.90 1227.78 L1308.11 1227.88 L1311.32 1227.97 L1314.53 1228.07 L1317.74 1228.16 L1320.94 1228.25 L1324.15 1228.34 L1327.36 1228.44 L1330.57 1228.53 L1333.78 1228.62 L1336.98 1228.70 L1340.19 1228.79 L1343.40 1228.88 L1346.61 1228.97 L1349.82 1229.05 L1353.02 1229.14 L1356.23 1229.22 L1359.44 1229.31 L1362.65 1229.39 L1365.86 1229.47 L1369.06 1229.55 L1372.27 1229.64 L1375.48 1229.72 L1378.69 1229.80 L1381.90 1229.87 L1385.10 1229.95 L1388.31 1230.03 L1391.52 1230.11 L1394.73 1230.18 L1397.94 1230.26 L1401.14 1230.34 L1404.35 1230.41 L1407.56 1230.48 L1410.77 1230.56 L1413.98 1230.63 L1417.18 1230.70 L1420.39 1230.77 L1423.60 1230.85 L1426.81 1230.92 L1430.02 1230.99 L1433.22 1231.06 L1436.43 1231.12 L1439.64 1231.19 L1442.85 1231.26 L1446.06 1231.33 L1449.26 1231.39 L1452.47 1231.46 L1455.68 1231.53 L1458.89 1231.59 L1462.10 1231.66 L1465.30 1231.72 L1468.51 1231.78 L1471.72 1231.85 L1474.93 1231.91 L1478.14 1231.97 L1481.34 1232.03 L1484.55 1232.10 L1487.76 1232.16 L1490.97 1232.22 L1494.18 1232.28 L1497.38 1232.34 L1500.59 1232.39 L1503.80 1232.45 L1507.01 1232.51 L1510.22 1232.57 L1513.42 1232.63 L1516.63 1232.68 L1519.84 1232.74 L1523.05 1232.79 L1526.26 1232.85 L1529.46 1232.90 L1532.67 1232.96 L1535.88 1233.01 L1539.09 1233.07 L1542.30 1233.12 L1545.50 1233.17 L1548.71 1233.23 L1551.92 1233.28 L1555.13 1233.33 L1558.34 1233.38 L1561.54 1233.43 L1564.75 1233.48 L1567.96 1233.53 L1571.17 1233.58 L1574.38 1233.63 L1577.58 1233.68 L1580.79 1233.73 L1584.00 1233.78 L1587.21 1233.83 L1590.42 1233.88 L1593.62 1233.92 L1596.83 1233.97 L1600.04 1234.02 L1603.25 1234.06 L1606.46 1234.11 L1609.66 1234.15 L1612.87 1234.20 L1616.08 1234.25 L1619.29 1234.29 L1622.50 1234.33 L1625.70 1234.38 L1628.91 1234.42 L1632.12 1234.47 L1635.33 1234.51 L1638.54 1234.55 L1641.74 1234.59 L1644.95 1234.64 L1648.16 1234.68 L1651.37 1234.72 L1654.58 1234.76 L1657.78 1234.80 L1660.99 1234.84 L1664.20 1234.88 L1667.41 1234.92 L1670.62 1234.96 L1673.82 1235.00 L1677.03 1235.04 L1680.24 1235.08 L1683.45 1235.12 L1686.66 1235.16 L1689.86 1235.20 L1693.07 1235.24 L1696.28 1235.27 L1699.49 1235.31 L1702.70 1235.35 L1705.90 1235.38 L1709.11 1235.42 L1712.32 1235.46 L1715.53 1235.49 L1718.74 1235.53 L1721.94 1235.57 L1725.15 1235.60 L1728.36 1235.64 L1731.57 1235.67 L1734.78 1235.71 L1737.98 1235.74 L1741.19 1235.77 L1744.40 1235.81 L1747.61 1235.84 L1750.82 1235.88 L1751.46 1235.88" stroke="#008080"/>
<path clip-path="url(#c_mag)" d="M381.80 33.52 L382.20 44.11 L382.60 54.56 L383.00 64.85 L383.41 74.99 L383.81 84.99 L384.21 94.84 L384.61 104.56 L385.01 114.14 L385.41 123.58 L385.81 132.89 L386.21 142.07 L386.61 151.12 L387.01 160.05 L387.42 168.86 L387.82 177.55 L388.22 186.12 L388.62 194.57 L389.02 202.91 L389.42 211.15 L389.82 219.27 L390.22 227.28 L390.62 235.19 L391.02 243.00 L391.43 250.71 L391.83 258.31 L392.23 265.82 L392.63 273.24 L393.03 280.56 L393.43 287.78 L393.83 294.92 L394.23 301.97 L394.63 308.93 L395.04 315.80 L395.44 322.59 L395.84 329.29 L396.24 335.92 L396.64 342.46 L397.04 348.92 L397.44 355.31 L397.84 361.62 L398.24 367.86 L398.64 374.02 L399.05 380.11 L399.45 386.12 L399.85 392.07 L400.25 397.95 L400.65 403.76 L401.05 409.50 L401.45 415.18 L401.85 420.79 L402.25 426.34 L402.65 431.83 L403.06 437.25 L403.46 442.62 L403.86 447.92 L404.26 453.16 L404.66 458.35 L405.06 463.48 L405.46 468.55 L405.86 473.57 L406.26 478.54 L406.66 483.45 L407.06 488.30 L407.47 493.11 L407.87 497.86 L408.27 502.57 L408.67 507.22 L409.07 511.83 L409.47 516.38 L409.87 520.89 L410.27 525.35 L410.67 529.77 L411.07 534.14 L411.48 538.46 L411.88 542.74 L412.28 546.98 L412.68 551.18 L413.08 555.33 L413.48 559.44 L413.88 563.51 L414.28 567.54 L414.68 571.52 L415.08 575.47 L415.49 579.38 L415.89 583.25 L416.29 587.09 L416.69 590.88 L417.09 594.64 L417.49 598.37 L417.89 602.05 L418.29 605.70 L418.69 609.32 L419.10 612.90 L419.50 616.45 L419.90 619.97 L420.30 623.45 L420.70 626.90 L421.10 630.31 L421.50 633.70 L421.90 637.05 L422.30 640.37 L422.70 643.67 L423.11 646.93 L423.51 650.16 L423.91 653.36 L424.31 656.54 L424.71 659.68 L425.11 662.80 L425.51 665.89 L425.91 668.95 L426.31 671.98 L426.71 674.99 L427.12 677.97 L427.52 680.92 L427.92 683.85 L428.32 686.75 L428.72 689.63 L429.12 692.48 L429.52 695.31 L429.92 698.11 L430.32 700.89 L430.72 703.64 L431.12 706.37 L431.53 709.08 L431.93 711.77 L432.33 714.43 L432.73 717.07 L433.13 719.69 L433.53 722.28 L433.93 724.86 L434.33 727.41 L434.73 729.94 L435.13 732.45 L435.54 734.94 L435.94 737.41 L436.34 739.86 L436.74 742.29 L437.14 744.70 L437.54 747.09 L437.94 749.46 L438.34 751.82 L438.74 754.15 L439.14 756.46 L439.55 758.76 L439.95 761.04 L440.35 763.30 L440.75 765.54 L441.15 767.76 L441.55 769.97 L441.95 772.16 L442.35 774.33 L442.75 776.49 L443.15 778.63 L443.56 780.75 L443.96 782.85 L444.36 784.94 L444.76 787.02 L445.16 789.08 L445.56 791.12 L445.96 793.15 L446.36 795.16 L446.76 797.15 L447.17 799.14 L447.57 801.10 L447.97 803.05 L448.37 804.99 L448.77 806.92 L449.17 808.82 L449.57 810.72 L449.97 812.60 L450.37 814.47 L450.77 816.32 L451.18 818.16 L451.58 819.99 L451.98 821.80 L452.38 823.60 L452.78 825.39 L453.18 827.16 L453.58 828.92 L453.98 830.67 L454.38 832.41 L454.78 834.13 L455.19 835.85 L455.59 837.55 L455.99 839.23 L456.39 840.91 L456.79 842.58 L457.19 844.23 L457.59 845.87 L457.99 847.50 L458.39 849.12 L458.79 850.73 L459.19 852.32 L459.60 853.91 L460.00 855.48 L460.40 857.05 L460.80 858.60 L461.20 860.14 L461.60 861.67 L462.00 863.20 L462.40 864.71 L462.80 866.21 L463.20 867.70 L463.61 869.18 L464.01 870.65 L464.41 872.12 L464.81 873.57 L465.21 875.01 L465.61 876.44 L466.01 877.87 L466.41 879.28 L466.81 880.69 L467.22 882.08 L467.62 883.47 L468.02 884.85 L468.42 886.22 L468.82 887.58 L469.22 888.93 L469.62 890.27 L470.02 891.60 L470.42 892.93 L470.82 894.25 L471.23 895.55 L471.63 896.85 L472.03 898.15 L472.43 899.43 L472.83 900.71 L473.23 901.97 L473.63 903.23 L474.03 904.49 L474.43 905.73 L474.83 906.97 L475.24 908.20 L475.64 909.42 L476.04 910.63 L476.44 911.84 L476.84 913.04 L477.24 914.23 L478.84 918.92 L480.45 923.50 L482.05 927.98 L483.66 932.34 L485.26 936.61 L486.86 940.78 L488.47 944.85 L490.07 948.83 L491.68 952.72 L493.28 956.52 L494.88 960.24 L496.49 963.88 L498.09 967.44 L499.70 970.92 L501.30 974.33 L502.90 977.67 L504.51 980.94 L506.11 984.14 L507.72 987.27 L509.32 990.34 L510.92 993.35 L512.53 996.29 L514.13 999.18 L515.74 1002.01 L517.34 1004.79 L518.94 1007.51 L520.55 1010.18 L522.15 1012.79 L523.76 1015.36 L525.36 1017.88 L526.96 1020.35 L528.57 1022.78 L530.17 1025.16 L531.78 1027.50 L533.38 1029.79 L534.98 1032.05 L536.59 1034.26 L538.19 1036.43 L539.80 1038.57 L541.40 1040.67 L543.00 1042.73 L544.61 1044.75 L546.21 1046.75 L547.82 1048.70 L549.42 1050.63 L551.02 1052.52 L552.63 1054.38 L554.23 1056.21 L555.84 1058.01 L557.44 1059.77 L559.04 1061.52 L560.65 1063.23 L562.25 1064.91 L563.86 1066.57 L565.46 1068.20 L567.06 1069.81 L568.67 1071.39 L570.27 1072.94 L571.88 1074.48 L573.48 1075.98 L575.08 1077.47 L576.69 1078.93 L578.29 1080.37 L579.90 1081.79 L581.50 1083.19 L583.10 1084.57 L584.71 1085.92 L586.31 1087.26 L587.92 1088.58 L589.52 1089.88 L591.12 1091.15 L592.73 1092.42 L594.33 1093.66 L595.94 1094.89 L597.54 1096.09 L599.14 1097.29 L600.75 1098.46 L602.35 1099.62 L603.96 1100.76 L605.56 1101.89 L607.16 1103.00 L608.77 1104.10 L610.37 1105.18 L611.98 1106.25 L613.58 1107.30 L615.18 1108.34 L616.79 1109.36 L618.39 1110.38 L620.00 1111.37 L621.60 1112.36 L623.20 1113.33 L624.81 1114.29 L626.41 1115.24 L628.02 1116.18 L629.62 1117.10 L631.22 1118.01 L632.83 1118.92 L634.43 1119.81 L636.04 1120.68 L637.64 1121.55 L639.24 1122.41 L640.85 1123.26 L642.45 1124.09 L644.06 1124.92 L645.66 1125.74 L647.26 1126.54 L648.87 1127.34 L650.47 1128.13 L652.08 1128.91 L653.68 1129.68 L655.28 1130.44 L656.89 1131.19 L658.49 1131.93 L660.10 1132.66 L661.70 1133.39 L663.30 1134.11 L664.91 1134.82 L666.51 1135.52 L668.12 1136.21 L669.72 1136.90 L671.32 1137.57 L672.93 1138.24 L674.53 1138.91 L676.14 1139.56 L677.74 1140.21 L679.34 1140.85 L680.95 1141.49 L682.55 1142.11 L684.16 1142.73 L685.76 1143.35 L687.36 1143.95 L688.97 1144.55 L690.57 1145.15 L692.18 1145.74 L693.78 1146.32 L695.38 1146.89 L696.99 1147.46 L698.59 1148.03 L700.20 1148.59 L701.80 1149.14 L705.01 1150.23 L708.22 1151.29 L711.42 1152.33 L714.63 1153.36 L717.84 1154.36 L721.05 1155.34 L724.26 1156.31 L727.46 1157.25 L730.67 1158.18 L733.88 1159.09 L737.09 1159.98 L740.30 1160.86 L743.50 1161.72 L746.71 1162.56 L749.92 1163.39 L753.13 1164.20 L756.34 1165.00 L759.54 1165.78 L762.75 1166.55 L765.96 1167.31 L769.17 1168.05 L772.38 1168.78 L775.58 1169.50 L778.79 1170.20 L782.00 1170.89 L785.21 1171.58 L788.42 1172.24 L791.62 1172.90 L794.83 1173.55 L798.04 1174.19 L801.25 1174.81 L804.46 1175.43 L807.66 1176.03 L810.87 1176.63 L814.08 1177.21 L817.29 1177.79 L820.50 1178.36 L823.70 1178.92 L826.91 1179.47 L830.12 1180.01 L833.33 1180.54 L836.54 1181.07 L839.74 1181.58 L842.95 1182.09 L846.16 1182.59 L849.37 1183.09 L852.58 1183.58 L855.78 1184.05 L858.99 1184.53 L862.20 1184.99 L865.41 1185.45 L868.62 1185.90 L871.82 1186.35 L875.03 1186.79 L878.24 1187.22 L881.45 1187.64 L884.66 1188.07 L887.86 1188.48 L891.07 1188.89 L894.28 1189.29 L897.49 1189.69 L900.70 1190.08 L903.90 1190.47 L907.11 1190.85 L910.32 1191.22 L913.53 1191.60 L916.74 1191.96 L919.94 1192.32 L923.15 1192.68 L926.36 1193.03 L929.57 1193.38 L932.78 1193.72 L935.98 1194.06 L939.19 1194.39 L942.40 1194.72 L945.61 1195.05 L948.82 1195.37 L952.02 1195.69 L955.23 1196.00 L958.44 1196.31 L961.65 1196.61 L964.86 1196.92 L968.06 1197.21 L971.27 1197.51 L974.48 1197.80 L977.69 1198.09 L980.90 1198.37 L984.10 1198.65 L987.31 1198.93 L990.52 1199.20 L993.73 1199.47 L996.94 1199.74 L1000.14 1200.00 L1003.35 1200.26 L1006.56 1200.52 L1009.77 1200.77 L1012.98 1201.02 L1016.18 1201.27 L1019.39 1201.52 L1022.60 1201.76 L1025.81 1202.00 L1029.02 1202.24 L1032.22 1202.47 L1035.43 1202.71 L1038.64 1202.94 L1041.85 1203.16 L1045.06 1203.39 L1048.26 1203.61 L1051.47 1203.83 L1054.68 1204.05 L1057.89 1204.26 L1061.10 1204.47 L1064.30 1204.68 L1067.51 1204.89 L1070.72 1205.10 L1073.93 1205.30 L1077.14 1205.50 L1080.34 1205.70 L1083.55 1205.90 L1086.76 1206.09 L1089.97 1206.28 L1093.18 1206.47 L1096.38 1206.66 L1099.59 1206.85 L1102.80 1207.03 L1106.01 1207.22 L1109.22 1207.40 L1112.42 1207.58 L1115.63 1207.75 L1118.84 1207.93 L1122.05 1208.10 L1125.26 1208.28 L1128.46 1208.45 L1131.67 1208.62 L1134.88 1208.78 L1138.09 1208.95 L1141.30 1209.11 L1144.50 1209.27 L1147.71 1209.43 L1150.92 1209.59 L1154.13 1209.75 L1157.34 1209.90 L1160.54 1210.06 L1163.75 1210.21 L1166.96 1210.36 L1170.17 1210.51 L1173.38 1210.66 L1176.58 1210.81 L1179.79 1210.95 L1183.00 1211.10 L1186.21 1211.24 L1189.42 1211.38 L1192.62 1211.52 L1195.83 1211.66 L1199.04 1211.80 L1202.25 1211.93 L1205.46 1212.07 L1208.66 1212.20 L1211.87 1212.34 L1215.08 1212.47 L1218.29 1212.60 L1221.50 1212.73 L1224.70 1212.85 L1227.91 1212.98 L1231.12 1213.10 L1234.33 1213.23 L1237.54 1213.35 L1240.74 1213.47 L1243.95 1213.60 L1247.16 1213.72 L1250.37 1213.83 L1253.58 1213.95 L1256.78 1214.07 L1259.99 1214.18 L1263.20 1214.30 L1266.41 1214.41 L1269.62 1214.53 L1272.82 1214.64 L1276.03 1214.75 L1279.24 1214.86 L1282.45 1214.97 L1285.66 1215.07 L1288.86 1215.18 L1292.07 1215.29 L1295.28 1215.39 L1298.49 1215.50 L1301.70 1215.60 L1304.90 1215.70 L1308.11 1215.80 L1311.32 1215.90 L1314.53 1216.00 L1317.74 1216.10 L1320.94 1216.20 L1324.15 1216.30 L1327.36 1216.40 L1330.57 1216.49 L1333.78 1216.59 L1336.98 1216.68 L1340.19 1216.77 L1343.40 1216.87 L1346.61 1216.96 L1349.82 1217.05 L1353.02 1217.14 L1356.23 1217.23 L1359.44 1217.32 L1362.65 1217.41 L1365.86 1217.50 L1369.06 1217.58 L1372.27 1217.67 L1375.48 1217.75 L1378.69 1217.84 L1381.90 1217.92 L1385.10 1218.01 L1388.31 1218.09 L1391.52 1218.17 L1394.73 1218.25 L1397.94 1218.34 L1401.14 1218.42 L1404.35 1218.50 L1407.56 1218.57 L1410.77 1218.65 L1413.98 1218.73 L1417.18 1218.81 L1420.39 1218.88 L1423.60 1218.96 L1426.81 1219.04 L1430.02 1219.11 L1433.22 1219.19 L1436.43 1219.26 L1439.64 1219.33 L1442.85 1219.40 L1446.06 1219.48 L1449.26 1219.55 L1452.47 1219.62 L1455.68 1219.69 L1458.89 1219.76 L1462.10 1219.83 L1465.30 1219.90 L1468.51 1219.97 L1471.72 1220.03 L1474.93 1220.10 L1478.14 1220.17 L1481.34 1220.24 L1484.55 1220.30 L1487.76 1220.37 L1490.97 1220.43 L1494.18 1220.50 L1497.38 1220.56 L1500.59 1220.62 L1503.80 1220.69 L1507.01 1220.75 L1510.22 1220.81 L1513.42 1220.87 L1516.63 1220.93 L1519.84 1221.00 L1523.05 1221.06 L1526.26 1221.12 L1529.46 1221.18 L1532.67 1221.24 L1535.88 1221.29 L1539.09 1221.35 L1542.30 1221.41 L1545.50 1221.47 L1548.71 1221.52 L1551.92 1221.58 L1555.13 1221.64 L1558.34 1221.69 L1561.54 1221.75 L1564.75 1221.80 L1567.96 1221.86 L1571.17 1221.91 L1574.38 1221.97 L1577.58 1222.02 L1580.79 1222.07 L1584.00 1222.13 L1587.21 1222.18 L1590.42 1222.23 L1593.62 1222.28 L1596.83 1222.33 L1600.04 1222.39 L1603.25 1222.44 L1606.46 1222.49 L1609.66 1222.54 L1612.87 1222.59 L1616.08 1222.64 L1619.29 1222.69 L1622.50 1222.73 L1625.70 1222.78 L1628.91 1222.83 L1632.12 1222.88 L1635.33 1222.93 L1638.54 1222.97 L1641.74 1223.02 L1644.95 1223.07 L1648.16 1223.11 L1651.37 1223.16 L1654.58 1223.20 L1657.78 1223.25 L1660.99 1223.29 L1664.20 1223.34 L1667.41 1223.38 L1670.62 1223.43 L1673.82 1223.47 L1677.03 1223.51 L1680.24 1223.56 L1683.45 1223.60 L1686.66 1223.64 L1689.86 1223.69 L1693.07 1223.73 L1696.28 1223.77 L1699.49 1223.81 L1702.70 1223.85 L1705.90 1223.89 L1709.11 1223.93 L1712.32 1223.97 L1715.53 1224.01 L1718.74 1224.05 L1721.94 1224.09 L1725.15 1224.13 L1728.36 1224.17 L1731.57 1224.21 L1734.78 1224.25 L1737.98 1224.29 L1741.19 1224.33 L1744.40 1224.37 L1747.61 1224.40 L1750.82 1224.44 L1754.02 1224.48 L1757.23 1224.51 L1760.44 1224.55 L1763.65 1224.59 L1766.86 1224.62 L1770.06 1224.66 L1773.27 1224.70 L1776.48 1224.73 L1779.69 1224.77 L1782.90 1224.80 L1786.10 1224.84 L1789.31 1224.87 L1792.52 1224.91 L1795.73 1224.94 L1798.94 1224.98 L1802.14 1225.01 L1805.35 1225.04 L1808.56 1225.08 L1811.77 1225.11 L1814.98 1225.14 L1818.18 1225.18 L1821.39 1225.21 L1824.60 1225.24 L1827.81 1225.27 L1831.02 1225.31 L1834.22 1225.34 L1837.43 1225.37 L1840.64 1225.40 L1843.85 1225.43 L1847.06 1225.46 L1850.26 1225.49 L1853.47 1225.52 L1856.68 1225.56 L1859.89 1225.59 L1863.10 1225.62 L1866.30 1225.65 L1869.51 1225.68 L1872.72 1225.71 L1875.93 1225.74 L1879.14 1225.76 L1882.34 1225.79 L1885.55 1225.82 L1888.76 1225.85 L1891.97 1225.88 L1895.18 1225.91 L1898.38 1225.94 L1901.59 1225.96 L1904.80 1225.99 L1908.01 1226.02 L1911.22 1226.05 L1914.42 1226.08 L1917.63 1226.10 L1920.84 1226.13 L1924.05 1226.16 L1927.26 1226.18 L1930.46 1226.21 L1933.67 1226.24 L1936.88 1226.26 L1940.09 1226.29 L1943.30 1226.32 L1946.50 1226.34 L1949.71 1226.37 L1952.92 1226.39 L1956.13 1226.42 L1959.34 1226.44 L1962.54 1226.47 L1965.75 1226.49 L1968.96 1226.52 L1972.17 1226.54 L1975.38 1226.57 L1976.34 1226.57" stroke="#FF00FF"/>
</g>
<rect x="1036" y="202.7" width="127" height="9.6" fill="#000000"/>
<rect x="1036" y="302.3" width="127" height="9.6" fill="#FF0000"/>
<rect x="1036" y="401.9" width="127" height="9.6" fill="#0000FF"/>
<rect x="1036" y="501.5" width="127" height="9.6" fill="#008080"/>
<rect x="1036" y="601.1" width="127" height="9.6" fill="#FF00FF"/>
<line x1="445.5" y1="1174.5" x2="616" y2="1002" stroke="#000" stroke-width="9.8"/>
<polygon points="645,971.5 605.5,996.5 623,1011.5" fill="#000" stroke="#000" stroke-width="7" stroke-linejoin="round"/>
<text transform="translate(363.60 1322.60) scale(1.0000 1.0395)" font-size="66">0</text>
<text transform="translate(492.50 1322.60) scale(1.0000 1.0395)" font-size="66">100</text>
<text transform="translate(651.60 1322.60) scale(1.0000 1.0395)" font-size="66">200</text>
<text transform="translate(812.00 1322.60) scale(1.0000 1.0395)" font-size="66">300</text>
<text transform="translate(973.40 1322.60) scale(1.0000 1.0395)" font-size="66">400</text>
<text transform="translate(1132.30 1322.60) scale(1.0000 1.0395)" font-size="66">500</text>
<text transform="translate(1293.20 1322.60) scale(1.0000 1.0395)" font-size="66">600</text>
<text transform="translate(1453.10 1322.60) scale(1.0000 1.0395)" font-size="66">700</text>
<text transform="translate(1614.00 1322.60) scale(1.0000 1.0395)" font-size="66">800</text>
<text transform="translate(1774.90 1322.60) scale(1.0000 1.0395)" font-size="66">900</text>
<text transform="translate(1919.60 1322.60) scale(1.0000 1.0395)" font-size="66">1000</text>
<text transform="translate(260.00 1247.30) scale(1.0000 1.0326)" font-size="66">0.0</text>
<text transform="translate(110.00 1024.40) scale(1.0000 1.0302)" font-size="66">2.0x10</text>
<text transform="translate(291.73 989.10) scale(0.9700 1.0480)" font-size="38">-12</text>
<text transform="translate(110.00 789.30) scale(1.0000 1.0302)" font-size="66">4.0x10</text>
<text transform="translate(291.73 754.00) scale(0.9700 1.0480)" font-size="38">-12</text>
<text transform="translate(110.00 554.20) scale(1.0000 1.0302)" font-size="66">6.0x10</text>
<text transform="translate(291.73 518.90) scale(0.9700 1.0480)" font-size="38">-12</text>
<text transform="translate(110.00 319.10) scale(1.0000 1.0302)" font-size="66">8.0x10</text>
<text transform="translate(291.73 283.80) scale(0.9700 1.0480)" font-size="38">-12</text>
<text transform="translate(110.00 84.00) scale(1.0000 1.0302)" font-size="66">1.0x10</text>
<text transform="translate(291.73 48.70) scale(0.9700 1.0480)" font-size="38">-11</text>
<text transform="translate(1178.01 225.60) scale(0.9930 1.0000)" font-size="66">X=0.035kg dry cell/m</text>
<text transform="translate(1757.70 194.80) scale(1.0000 1.0062)" font-size="49">3</text>
<text transform="translate(1178.01 325.05) scale(0.9930 1.0000)" font-size="66">X=0.06kg dry cell/m</text>
<text transform="translate(1724.93 294.25) scale(1.0000 1.0062)" font-size="49">3</text>
<text transform="translate(1178.01 424.50) scale(0.9930 1.0000)" font-size="66">X=0.08kg dry cell/m</text>
<text transform="translate(1724.93 393.70) scale(1.0000 1.0062)" font-size="49">3</text>
<text transform="translate(1178.01 523.95) scale(0.9930 1.0000)" font-size="66">X=0.1kg dry cell/m</text>
<text transform="translate(1692.16 493.15) scale(1.0000 1.0062)" font-size="49">3</text>
<text transform="translate(1178.01 623.40) scale(0.9930 1.0000)" font-size="66">X=0.35kg dry cell/m</text>
<text transform="translate(1724.93 592.60) scale(1.0000 1.0063)" font-size="49">3</text>
<text transform="translate(612.21 905.00) scale(0.9934 1.0000)" font-size="71">X=0.035-0.35 kg dry cell/m</text>
<text transform="translate(1401.64 875.00) scale(1.1571 1.1500)" font-size="30" style="font-family:'Liberation Sans',Arial,sans-serif">3</text>
<text transform="translate(617.82 1457.60) scale(0.9891 1.0095)" font-size="92">Total incident radiation/</text>
<text transform="translate(1497.21 1457.46) scale(1.0316 0.9692)" font-size="72">(</text>
<text transform="translate(1523.00 1457.80) scale(0.9738 1.0717)" font-size="92">W/m</text>
<text transform="translate(1699.63 1418.50) scale(1.0850 1.0344)" font-size="49">2</text>
<text transform="translate(1724.91 1457.46) scale(0.9947 0.9692)" font-size="72">)</text>
<text transform="translate(86.00 1314.98) rotate(-90) scale(0.9908 0.9569)" font-size="72">Hydrogen production thrust coefficient/(s</text>
<text transform="translate(46.90 129.16) rotate(-90) scale(1.1313 1.0423)" font-size="40">2</text>
<text transform="translate(85.97 106.78) rotate(-90) scale(0.9895 0.9954)" font-size="72">)</text>
</svg></body></html>
